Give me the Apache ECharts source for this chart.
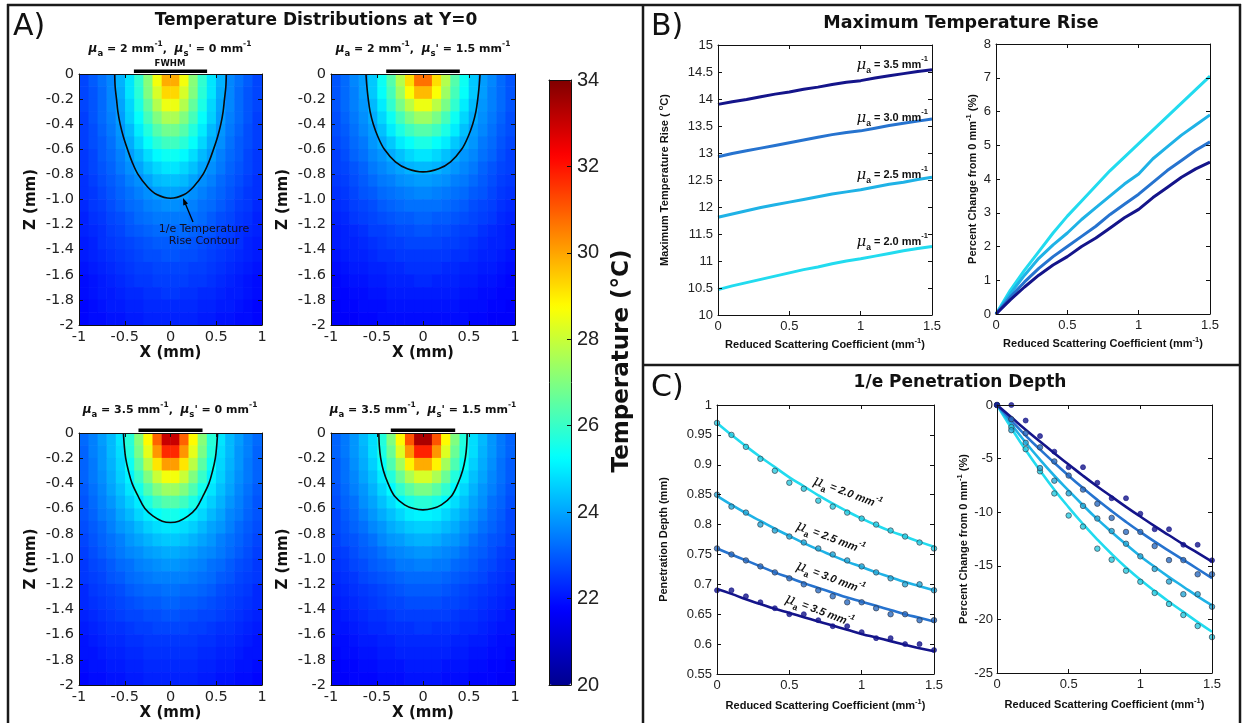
<!DOCTYPE html>
<html><head><meta charset="utf-8"><title>Temperature Distributions</title>
<script src="https://cdn.jsdelivr.net/npm/echarts@6/dist/echarts.min.js"></script>
<style>html,body{margin:0;padding:0;background:#fff;}#chart{width:1244px;height:723px;}</style>
</head><body><div id="chart"></div>
<script>
// ================= DATA (estimated from the figure) =================
// Panel A heat maps: cell centres (right half, mirrored for x<0) and depth rows
const cellX = [0.05,0.15,0.25,0.35,0.45,0.55,0.65,0.75,0.85,0.95];
const cellZ = [-0.05,-0.15,-0.25,-0.35,-0.45,-0.55,-0.65,-0.75,-0.85,-0.95,-1.05,-1.15,-1.25,-1.35,-1.45,-1.55,-1.65,-1.75,-1.85,-1.95];
const cellHalf = 0.05;
// Temperature (°C), rows = depth, cols = x
const heatP1 = [
[29.9,28.6,27.1,25.9,24.9,24.2,23.6,23.3,23.0,22.7],
[29.3,28.2,27.0,25.8,24.9,24.1,23.6,23.2,22.9,22.7],
[28.5,27.7,26.6,25.6,24.7,24.0,23.6,23.2,22.9,22.7],
[27.6,27.0,26.2,25.3,24.6,23.9,23.5,23.2,22.9,22.6],
[26.8,26.4,25.7,25.0,24.3,23.8,23.4,23.1,22.8,22.6],
[26.1,25.8,25.3,24.7,24.1,23.7,23.3,23.0,22.8,22.6],
[25.4,25.2,24.8,24.3,23.9,23.5,23.2,23.0,22.7,22.5],
[24.9,24.7,24.4,24.0,23.7,23.4,23.1,22.9,22.7,22.5],
[24.4,24.3,24.0,23.7,23.5,23.2,23.0,22.8,22.6,22.4],
[24.0,23.9,23.7,23.5,23.3,23.1,22.9,22.7,22.5,22.4],
[23.7,23.6,23.5,23.3,23.2,23.0,22.8,22.6,22.5,22.3],
[23.4,23.4,23.3,23.2,23.0,22.8,22.7,22.5,22.4,22.2],
[23.2,23.2,23.1,23.0,22.9,22.7,22.6,22.4,22.3,22.2],
[23.0,23.0,22.9,22.8,22.7,22.6,22.5,22.4,22.2,22.1],
[22.9,22.8,22.8,22.7,22.6,22.5,22.4,22.3,22.2,22.1],
[22.7,22.7,22.6,22.6,22.5,22.4,22.3,22.2,22.1,22.0],
[22.6,22.6,22.5,22.5,22.4,22.3,22.2,22.1,22.0,21.9],
[22.5,22.4,22.4,22.3,22.3,22.2,22.1,22.1,22.0,21.9],
[22.3,22.3,22.3,22.2,22.2,22.1,22.1,22.0,21.9,21.8],
[22.2,22.2,22.2,22.1,22.1,22.0,22.0,21.9,21.9,21.8]];
const heatP2 = [
[30.7,29.2,27.7,26.4,25.4,24.5,23.9,23.6,23.2,22.9],
[29.7,28.7,27.4,26.2,25.3,24.5,23.9,23.5,23.2,22.9],
[28.5,27.8,26.9,25.9,25.0,24.3,23.8,23.5,23.2,22.9],
[27.4,26.9,26.2,25.4,24.7,24.1,23.7,23.4,23.1,22.8],
[26.4,26.1,25.6,25.0,24.4,23.9,23.6,23.3,23.0,22.8],
[25.6,25.3,25.0,24.5,24.1,23.8,23.4,23.2,22.9,22.7],
[24.9,24.7,24.4,24.1,23.8,23.6,23.3,23.1,22.8,22.6],
[24.3,24.2,24.0,23.8,23.6,23.4,23.1,22.9,22.7,22.6],
[23.9,23.8,23.7,23.5,23.4,23.2,23.0,22.8,22.6,22.5],
[23.6,23.5,23.4,23.3,23.2,23.0,22.9,22.7,22.5,22.4],
[23.3,23.3,23.2,23.1,23.0,22.8,22.7,22.6,22.4,22.3],
[23.1,23.0,23.0,22.9,22.8,22.7,22.6,22.5,22.3,22.2],
[22.9,22.8,22.8,22.7,22.6,22.6,22.4,22.3,22.2,22.1],
[22.7,22.7,22.6,22.6,22.5,22.4,22.3,22.2,22.2,22.1],
[22.5,22.5,22.5,22.4,22.4,22.3,22.2,22.2,22.1,22.0],
[22.4,22.4,22.3,22.3,22.2,22.2,22.1,22.1,22.0,21.9],
[22.3,22.2,22.2,22.2,22.1,22.1,22.0,22.0,21.9,21.8],
[22.1,22.1,22.1,22.1,22.0,22.0,21.9,21.9,21.8,21.8],
[22.0,22.0,22.0,22.0,21.9,21.9,21.9,21.8,21.8,21.7],
[21.9,21.9,21.9,21.9,21.9,21.8,21.8,21.7,21.7,21.7]];
const heatP3 = [
[33.0,30.9,28.8,27.1,25.8,24.9,24.3,23.9,23.5,23.2],
[31.7,30.2,28.4,26.9,25.7,24.8,24.3,23.8,23.5,23.1],
[30.1,29.1,27.8,26.5,25.4,24.7,24.2,23.8,23.4,23.1],
[28.6,28.0,27.0,26.0,25.1,24.6,24.1,23.7,23.4,23.1],
[27.4,27.0,26.3,25.5,24.9,24.4,24.0,23.6,23.3,23.0],
[26.4,26.1,25.6,25.0,24.6,24.2,23.8,23.5,23.2,22.9],
[25.5,25.3,25.0,24.7,24.3,24.0,23.6,23.4,23.1,22.9],
[24.9,24.8,24.6,24.3,24.0,23.8,23.5,23.2,23.0,22.8],
[24.5,24.4,24.2,24.0,23.8,23.5,23.3,23.1,22.9,22.7],
[24.1,24.0,23.9,23.7,23.6,23.4,23.2,23.0,22.8,22.6],
[23.8,23.7,23.6,23.5,23.3,23.2,23.0,22.8,22.7,22.5],
[23.5,23.5,23.4,23.3,23.2,23.0,22.9,22.7,22.6,22.5],
[23.3,23.2,23.2,23.1,23.0,22.8,22.7,22.6,22.5,22.3],
[23.1,23.0,23.0,22.9,22.8,22.7,22.6,22.5,22.4,22.3],
[22.9,22.8,22.8,22.7,22.7,22.6,22.5,22.4,22.3,22.2],
[22.7,22.7,22.6,22.6,22.5,22.4,22.4,22.3,22.2,22.1],
[22.5,22.5,22.5,22.4,22.4,22.3,22.3,22.2,22.1,22.0],
[22.4,22.4,22.4,22.3,22.3,22.2,22.2,22.1,22.0,22.0],
[22.3,22.3,22.3,22.2,22.2,22.1,22.1,22.0,22.0,21.9],
[22.2,22.2,22.2,22.1,22.1,22.0,22.0,21.9,21.9,21.8]];
const heatP4 = [
[33.4,31.1,28.8,27.0,25.7,24.8,24.3,23.8,23.4,23.1],
[31.8,30.2,28.3,26.7,25.6,24.8,24.2,23.8,23.4,23.1],
[29.9,28.9,27.5,26.3,25.3,24.6,24.1,23.7,23.3,23.0],
[28.2,27.6,26.7,25.7,25.0,24.4,24.0,23.6,23.3,23.0],
[26.9,26.5,25.9,25.2,24.7,24.2,23.8,23.5,23.2,22.9],
[25.8,25.6,25.2,24.8,24.4,24.0,23.7,23.3,23.1,22.8],
[25.1,25.0,24.7,24.4,24.1,23.8,23.5,23.2,23.0,22.7],
[24.6,24.5,24.3,24.1,23.8,23.6,23.3,23.1,22.9,22.7],
[24.2,24.1,23.9,23.8,23.6,23.3,23.1,22.9,22.8,22.6],
[23.8,23.7,23.6,23.5,23.3,23.1,23.0,22.8,22.6,22.5],
[23.5,23.4,23.4,23.2,23.1,23.0,22.8,22.7,22.5,22.4],
[23.2,23.2,23.1,23.0,22.9,22.8,22.7,22.5,22.4,22.3],
[23.0,23.0,22.9,22.8,22.7,22.6,22.5,22.4,22.3,22.2],
[22.8,22.8,22.7,22.7,22.6,22.5,22.4,22.3,22.2,22.1],
[22.6,22.6,22.6,22.5,22.4,22.4,22.3,22.2,22.1,22.0],
[22.5,22.4,22.4,22.4,22.3,22.3,22.2,22.1,22.0,22.0],
[22.3,22.3,22.3,22.2,22.2,22.1,22.1,22.0,21.9,21.9],
[22.2,22.2,22.2,22.1,22.1,22.0,22.0,21.9,21.9,21.8],
[22.1,22.1,22.0,22.0,22.0,21.9,21.9,21.8,21.8,21.7],
[22.0,22.0,21.9,21.9,21.9,21.8,21.8,21.8,21.7,21.7]];
// 1/e temperature-rise contours (right half, x >= 0), [x, z] in mm
const contourP1 = [[0.61,0],[0.605,-0.1],[0.59,-0.2],[0.575,-0.3],[0.55,-0.4],[0.515,-0.5],[0.47,-0.6],[0.42,-0.7],[0.355,-0.8],[0.25,-0.9],[0.15,-0.96],[0,-0.99]];
const contourP2 = [[0.62,0],[0.61,-0.1],[0.595,-0.2],[0.575,-0.3],[0.54,-0.4],[0.49,-0.5],[0.42,-0.6],[0.3,-0.7],[0.17,-0.755],[0,-0.78]];
const contourP3 = [[0.515,0],[0.505,-0.1],[0.49,-0.2],[0.46,-0.3],[0.42,-0.4],[0.355,-0.5],[0.28,-0.6],[0.19,-0.66],[0.09,-0.7],[0,-0.71]];
const contourP4 = [[0.48,0],[0.475,-0.1],[0.46,-0.2],[0.43,-0.3],[0.38,-0.4],[0.31,-0.5],[0.2,-0.57],[0.1,-0.6],[0,-0.61]];
const fwhmHalf = [0.40, 0.40, 0.35, 0.35];
const panelMuA = ['2', '2', '3.5', '3.5'];
const panelMuS = ['0', '1.5', '0', '1.5'];
const colorbarTicks = [20, 34, 2];

// Panels B and C: reduced scattering coefficient (mm^-1)
const scatterCoef = [0,0.1,0.2,0.3,0.4,0.5,0.6,0.7,0.8,0.9,1.0,1.1,1.2,1.3,1.4,1.5];
const muaLabels = ['2.0', '2.5', '3.0', '3.5'];
// B left: maximum temperature rise (°C)
const maxRise20 = [10.47,10.54,10.60,10.66,10.72,10.78,10.84,10.89,10.95,11.00,11.04,11.09,11.14,11.19,11.23,11.27];
const maxRise25 = [11.81,11.87,11.93,11.99,12.04,12.09,12.14,12.19,12.24,12.28,12.32,12.37,12.42,12.46,12.51,12.55];
const maxRise30 = [12.93,12.99,13.04,13.09,13.14,13.19,13.24,13.29,13.34,13.38,13.41,13.46,13.51,13.55,13.59,13.63];
const maxRise35 = [13.90,13.95,13.99,14.04,14.09,14.13,14.18,14.22,14.27,14.31,14.34,14.39,14.43,14.47,14.51,14.54];
// B right: percent change of max rise (%)
const pctRise20 = [0,0.70,1.30,1.85,2.40,2.90,3.35,3.80,4.25,4.65,5.05,5.45,5.85,6.25,6.65,7.05];
const pctRise25 = [0,0.60,1.15,1.65,2.05,2.40,2.80,3.15,3.50,3.85,4.15,4.60,4.95,5.30,5.60,5.90];
const pctRise30 = [0,0.50,0.95,1.35,1.70,2.00,2.30,2.60,2.95,3.25,3.55,3.90,4.25,4.55,4.85,5.10];
const pctRise35 = [0,0.42,0.80,1.15,1.45,1.70,2.00,2.25,2.55,2.85,3.10,3.45,3.75,4.05,4.30,4.50];
// C left: penetration depth (mm) – simulated points and fitted curves
const depthPts20 = [0.97,0.95,0.93,0.91,0.89,0.87,0.86,0.84,0.83,0.82,0.81,0.80,0.79,0.78,0.77,0.76];
const depthPts25 = [0.85,0.83,0.82,0.80,0.79,0.78,0.77,0.76,0.75,0.74,0.73,0.72,0.71,0.70,0.70,0.69];
const depthPts30 = [0.76,0.75,0.74,0.73,0.72,0.71,0.70,0.69,0.68,0.67,0.67,0.66,0.65,0.65,0.64,0.64];
const depthPts35 = [0.69,0.69,0.68,0.67,0.66,0.65,0.65,0.64,0.63,0.63,0.62,0.61,0.61,0.60,0.60,0.59];
const depthFit20 = [0.970,0.950,0.931,0.913,0.896,0.879,0.864,0.849,0.835,0.822,0.810,0.799,0.789,0.780,0.771,0.763];
const depthFit25 = [0.848,0.833,0.819,0.806,0.793,0.781,0.769,0.758,0.748,0.738,0.729,0.720,0.712,0.704,0.697,0.690];
const depthFit30 = [0.760,0.750,0.740,0.730,0.720,0.711,0.702,0.694,0.686,0.678,0.671,0.664,0.657,0.650,0.644,0.638];
const depthFit35 = [0.692,0.684,0.675,0.667,0.659,0.652,0.645,0.638,0.631,0.624,0.617,0.611,0.605,0.599,0.593,0.588];
// C right: percent change of penetration depth (%)
const depthPct20 = [0,-2.06,-4.12,-6.19,-8.25,-10.31,-11.34,-13.40,-14.43,-15.46,-16.49,-17.53,-18.56,-19.59,-20.62,-21.65];
const depthPct25 = [0,-2.35,-3.53,-5.88,-7.06,-8.24,-9.41,-10.59,-11.76,-12.94,-14.12,-15.29,-16.47,-17.65,-17.65,-18.82];
const depthPct30 = [0,-1.32,-2.63,-3.95,-5.26,-6.58,-7.89,-9.21,-10.53,-11.84,-11.84,-13.16,-14.47,-14.47,-15.79,-15.79];
const depthPct35 = [0,0,-1.45,-2.90,-4.35,-5.80,-5.80,-7.25,-8.70,-8.70,-10.14,-11.59,-11.59,-13.04,-13.04,-14.49];
const depthPctFit20 = [0,-2.15,-4.20,-6.10,-7.90,-9.55,-11.10,-12.55,-13.90,-15.15,-16.30,-17.35,-18.35,-19.30,-20.25,-21.15];
const depthPctFit25 = [0,-1.80,-3.50,-5.10,-6.60,-8.00,-9.35,-10.65,-11.85,-13.00,-14.10,-15.10,-16.05,-16.95,-17.85,-18.70];
const depthPctFit30 = [0,-1.45,-2.85,-4.15,-5.40,-6.60,-7.75,-8.85,-9.90,-10.90,-11.85,-12.75,-13.60,-14.45,-15.30,-16.15];
const depthPctFit35 = [0,-1.15,-2.30,-3.40,-4.50,-5.55,-6.60,-7.60,-8.55,-9.50,-10.40,-11.30,-12.15,-13.00,-13.80,-14.60];

// ================= STYLE / LAYOUT =================
const FONT = 'DejaVu Sans';
const LFONT = 'Liberation Sans';
const INK = '#111111';
const jet = ['#00008f','#0000ff','#0080ff','#00ffff','#80ff80','#ffff00','#ff8000','#ff0000','#800000'];
const muaColor = {'2.0':'#22dbef', '2.5':'#1fb2e6', '3.0':'#2673cf', '3.5':'#14148a'};
const muaMarker = {'2.0':'#2bc9de', '2.5':'#25a8d6', '3.0':'#2a6cc2', '3.5':'#14148a'};

const gridRects = [
  {left:79, top:74, width:183, height:251},
  {left:331, top:74, width:184, height:251},
  {left:79, top:433, width:183, height:252},
  {left:331, top:433, width:184, height:252},
  {left:549, top:80, width:22, height:605},
  {left:718, top:45, width:214, height:270},
  {left:996, top:44, width:214, height:270},
  {left:717, top:405, width:217, height:269},
  {left:997, top:405, width:215, height:268}
];

const xAxes = [], yAxes = [];
function baseAxis(g, r) {
  return {type:'value', gridIndex:g, min:r[0], max:r[1], interval:r[2], z:5,
    axisLine:{show:true, onZero:false, lineStyle:{color:INK, width:1}},
    axisTick:{show:true, inside:true, length:4, lineStyle:{color:INK, width:1}},
    splitLine:{show:false}};
}
function addBoxAxes(g, xr, yr, c) {
  xAxes.push(Object.assign(baseAxis(g, xr), {position:'bottom', axisLabel:c.xLabel,
    name:c.xName || '', nameLocation:'middle', nameGap:c.xGap || 20, nameTextStyle:c.xNameStyle || {}}));
  xAxes.push(Object.assign(baseAxis(g, xr), {position:'top', axisLabel:{show:false}}));
  yAxes.push(Object.assign(baseAxis(g, yr), {position:'left', axisLabel:c.yLabel,
    name:c.yName || '', nameLocation:'middle', nameRotate:90, nameGap:c.yGap || 30, nameTextStyle:c.yNameStyle || {}}));
  yAxes.push(Object.assign(baseAxis(g, yr), {position:'right', axisLabel:{show:false}}));
}

const heatNameStyle = {fontFamily:FONT, fontWeight:'bold', fontSize:15, color:INK};
const heatTickStyle = {fontFamily:FONT, fontSize:14.5, color:'#222'};
for (let g = 0; g < 4; g++) {
  addBoxAxes(g, [-1, 1, 0.5], [-2, 0, 0.2], {
    xLabel: Object.assign({margin:5, formatter: v => String(+v.toFixed(1))}, heatTickStyle),
    yLabel: Object.assign({margin:5, formatter: v => Math.abs(v) < 1e-9 ? '0' : (Math.abs(v + 2) < 1e-9 ? '-2' : v.toFixed(1))}, heatTickStyle),
    xName:'X (mm)', xGap:17, xNameStyle:heatNameStyle,
    yName:'Z (mm)', yGap:40, yNameStyle:heatNameStyle
  });
}
// colorbar axes (grid 4)
(function () {
  const noLab = {show:false};
  const line = {show:true, onZero:false, lineStyle:{color:INK, width:1}};
  xAxes.push({type:'value', gridIndex:4, min:0, max:1, position:'bottom', z:10, axisLine:line, axisTick:{show:false}, axisLabel:noLab, splitLine:{show:false}});
  xAxes.push({type:'value', gridIndex:4, min:0, max:1, position:'top', z:10, axisLine:line, axisTick:{show:false}, axisLabel:noLab, splitLine:{show:false}});
  yAxes.push({type:'value', gridIndex:4, min:colorbarTicks[0], max:colorbarTicks[1], interval:colorbarTicks[2], position:'left', z:10, axisLine:line, axisTick:{show:false}, axisLabel:noLab, splitLine:{show:false}});
  yAxes.push({type:'value', gridIndex:4, min:colorbarTicks[0], max:colorbarTicks[1], interval:colorbarTicks[2], position:'right', z:10,
    axisLine:line, axisTick:{show:true, inside:true, length:4, lineStyle:{color:INK}},
    axisLabel:{margin:6, fontFamily:LFONT, fontSize:20, color:'#222'}, splitLine:{show:false}});
})();

const lineTick = {fontFamily:LFONT, fontSize:13, color:'#222'};
const nameRich = {
  t:{fontFamily:LFONT, fontWeight:'bold', fontSize:11, lineHeight:15, verticalAlign:'middle', color:INK},
  p:{fontFamily:LFONT, fontWeight:'bold', fontSize:7.5, lineHeight:8, verticalAlign:'top', color:INK}
};
const xNameRSC = '{t|Reduced Scattering Coefficient (mm}{p|-1}{t|)}';
const fmt = d => (v => String(+v.toFixed(d)));
addBoxAxes(5, [0, 1.5, 0.5], [10, 15, 0.5], {
  xLabel:Object.assign({margin:5, formatter:fmt(1)}, lineTick), yLabel:Object.assign({margin:5, formatter:fmt(1)}, lineTick),
  xName:xNameRSC, xGap:22, xNameStyle:{rich:nameRich},
  yName:'{t|Maximum Temperature Rise ( }{p|o}{t|C)}', yGap:46, yNameStyle:{rich:nameRich}});
addBoxAxes(6, [0, 1.5, 0.5], [0, 8, 1], {
  xLabel:Object.assign({margin:5, formatter:fmt(1)}, lineTick), yLabel:Object.assign({margin:5, formatter:fmt(0)}, lineTick),
  xName:xNameRSC, xGap:22, xNameStyle:{rich:nameRich},
  yName:'{t|Percent Change from 0 mm}{p|-1}{t| (%)}', yGap:16, yNameStyle:{rich:nameRich}});
addBoxAxes(7, [0, 1.5, 0.5], [0.55, 1, 0.05], {
  xLabel:Object.assign({margin:5, formatter:fmt(1)}, lineTick), yLabel:Object.assign({margin:5, formatter:fmt(2)}, lineTick),
  xName:xNameRSC, xGap:24, xNameStyle:{rich:nameRich},
  yName:'{t|Penetration Depth (mm)}', yGap:46, yNameStyle:{rich:nameRich}});
addBoxAxes(8, [0, 1.5, 0.5], [-25, 0, 5], {
  xLabel:Object.assign({margin:5, formatter:fmt(1)}, lineTick), yLabel:Object.assign({margin:4, formatter:fmt(0)}, lineTick),
  xName:xNameRSC, xGap:24, xNameStyle:{rich:nameRich},
  yName:'{t|Percent Change from 0 mm}{p|-1}{t| (%)}', yGap:26, yNameStyle:{rich:nameRich}});

// ================= SERIES =================
function heatData(grid) {
  const out = [];
  grid.forEach((row, j) => row.forEach((t, i) => {
    out.push([cellX[i], cellZ[j], t]);
    out.push([-cellX[i], cellZ[j], t]);
  }));
  return out;
}
function renderCell(params, api) {
  const x = api.value(0), z = api.value(1);
  const p0 = api.coord([x - cellHalf, z + cellHalf]);
  const p1 = api.coord([x + cellHalf, z - cellHalf]);
  return {type:'rect', shape:{x:p0[0] - 0.3, y:p0[1] - 0.3, width:p1[0] - p0[0] + 0.6, height:p1[1] - p0[1] + 0.6},
    style:{fill:api.visual('color')}};
}
function fullContour(half) {
  const left = half.map(p => [-p[0], p[1]]);
  const right = half.slice().reverse().slice(1);
  return left.concat(right);
}
function renderFwhm(params, api) {
  const h = api.value(0);
  const a = api.coord([-h, 0]), b = api.coord([h, 0]);
  return {type:'rect', shape:{x:a[0], y:a[1] - 4.5, width:b[0] - a[0], height:3.5}, style:{fill:'#000'}};
}
const heats = [heatP1, heatP2, heatP3, heatP4];
const contours = [contourP1, contourP2, contourP3, contourP4];
const series = [];
heats.forEach((h, g) => series.push({type:'custom', xAxisIndex:2*g, yAxisIndex:2*g, renderItem:renderCell,
  data:heatData(h), clip:true, silent:true, z:1}));
contours.forEach((c, g) => series.push({type:'line', xAxisIndex:2*g, yAxisIndex:2*g, data:fullContour(c),
  smooth:0.35, symbol:'none', lineStyle:{color:'#0a0a0a', width:1.6}, z:4, silent:true}));
fwhmHalf.forEach((h, g) => series.push({type:'custom', xAxisIndex:2*g, yAxisIndex:2*g, renderItem:renderFwhm,
  data:[[h, 0]], clip:false, silent:true, z:6}));

function pairs(ys) { return scatterCoef.map((x, i) => [x, ys[i]]); }
function lineS(g, ys, key, width, smooth) {
  return {type:'line', xAxisIndex:2*g, yAxisIndex:2*g, data:pairs(ys), symbol:'none', smooth:smooth || false,
    lineStyle:{color:muaColor[key], width:width}, itemStyle:{color:muaColor[key]}, z:3, silent:true};
}
function dotS(g, ys, key) {
  const filled = key === '3.5';
  return {type:'scatter', xAxisIndex:2*g, yAxisIndex:2*g, data:pairs(ys), symbol:'circle', symbolSize:filled ? 5 : 5.5,
    itemStyle:{color:muaMarker[key], borderColor:filled ? '#14148a' : '#2a3340', borderWidth:0.8}, z:4, silent:true};
}
const riseSets = {'2.0':maxRise20, '2.5':maxRise25, '3.0':maxRise30, '3.5':maxRise35};
const pctSets = {'2.0':pctRise20, '2.5':pctRise25, '3.0':pctRise30, '3.5':pctRise35};
const dPts = {'2.0':depthPts20, '2.5':depthPts25, '3.0':depthPts30, '3.5':depthPts35};
const dFit = {'2.0':depthFit20, '2.5':depthFit25, '3.0':depthFit30, '3.5':depthFit35};
const pPts = {'2.0':depthPct20, '2.5':depthPct25, '3.0':depthPct30, '3.5':depthPct35};
const pFit = {'2.0':depthPctFit20, '2.5':depthPctFit25, '3.0':depthPctFit30, '3.5':depthPctFit35};
muaLabels.forEach(k => series.push(lineS(5, riseSets[k], k, 3)));
muaLabels.forEach(k => series.push(lineS(6, pctSets[k], k, 3)));
muaLabels.forEach(k => series.push(lineS(7, dFit[k], k, 2.6, true)));
muaLabels.forEach(k => series.push(dotS(7, dPts[k], k)));
muaLabels.forEach(k => series.push(lineS(8, pFit[k], k, 2.6, true)));
muaLabels.forEach(k => series.push(dotS(8, pPts[k], k)));

// ================= TEXT / FRAME (graphic) =================
function txt(x, y, text, o) {
  o = o || {};
  const st = {text:text, fill:o.color || INK, fontFamily:o.family || FONT, fontSize:o.size || 12,
    fontWeight:o.weight || 'normal', fontStyle:o.style || 'normal',
    align:o.align || 'center', verticalAlign:'middle', textAlign:o.align || 'center', textVerticalAlign:'middle'};
  if (o.rich) st.rich = o.rich;
  return {type:'text', x:x, y:y, rotation:o.rot || 0, z:120, silent:true, style:st};
}
function tok(family, size, lh, va, weight, style) {
  return {fontFamily:family, fontSize:size, lineHeight:lh, verticalAlign:va, fontWeight:weight || 'bold',
    fontStyle:style || 'normal', fill:INK, color:INK};
}
const subRich = {
  mu:tok(FONT, 12, 18, 'middle', 'bold', 'italic'),
  s:tok(FONT, 8.5, 9, 'bottom'),
  t:tok(FONT, 11, 18, 'middle'),
  p:tok(FONT, 7.5, 8, 'top')
};
function labRich(italic) {
  return {
    mu:tok('DejaVu Serif', 15, 20, 'middle', 'normal', 'italic'),
    s:tok(LFONT, 8.5, 10, 'bottom'),
    t:tok(LFONT, 11, 20, 'middle', 'bold', italic ? 'italic' : 'normal'),
    p:tok(LFONT, 7.5, 9, 'top', 'bold', italic ? 'italic' : 'normal')
  };
}
const subCentres = [[170, 49], [423, 49], [170, 410], [423, 410]];
const graphics = [];
// frame
const frame = [[7,5,1241,5],[8,4,8,724],[1240,4,1240,724],[643,5,643,724],[643,365,1240,365]];
frame.forEach(f => graphics.push({type:'line', z:130, silent:true, shape:{x1:f[0], y1:f[1], x2:f[2], y2:f[3]},
  style:{stroke:'#1a1a1a', lineWidth:2.5}}));
graphics.push(txt(13, 27, 'A)', {size:30, align:'left'}));
graphics.push(txt(651, 27, 'B)', {size:30, align:'left'}));
graphics.push(txt(651, 388, 'C)', {size:30, align:'left'}));
graphics.push(txt(316, 21, 'Temperature Distributions at Y=0', {size:17, weight:'bold'}));
graphics.push(txt(961, 23, 'Maximum Temperature Rise', {size:17.5, weight:'bold'}));
graphics.push(txt(960, 383, '1/e Penetration Depth', {size:17, weight:'bold'}));
graphics.push(txt(622, 361, 'Temperature (°C)', {size:23, weight:'bold', rot:Math.PI / 2}));
subCentres.forEach((c, k) => graphics.push(txt(c[0], c[1],
  '{mu|μ}{s|a}{t| = ' + panelMuA[k] + ' mm}{p|-1}{t|,  }{mu|μ}{s|s}{t|\' = ' + panelMuS[k] + ' mm}{p|-1}', {rich:subRich})));
graphics.push(txt(170, 64, 'FWHM', {size:8.5, weight:'bold'}));
graphics.push(txt(204, 229, '1/e Temperature', {size:11, color:'#101020'}));
graphics.push(txt(204, 241, 'Rise Contour', {size:11, color:'#101020'}));
graphics.push({type:'line', z:125, silent:true, shape:{x1:193, y1:222, x2:185.5, y2:204}, style:{stroke:'#000', lineWidth:1.3}});
graphics.push({type:'polygon', z:125, silent:true, shape:{points:[[183, 198], [188, 203.6], [183.3, 205.6]]}, style:{fill:'#000'}});
// B labels (right aligned)
const bLabelY = {'3.5':65, '3.0':118, '2.5':175, '2.0':242};
muaLabels.forEach(k => graphics.push(txt(928, bLabelY[k], '{mu|μ}{s|a}{t| = ' + k + ' mm}{p|-1}', {rich:labRich(false), align:'right'})));
// C labels (rotated)
const cLabelPos = {'2.0':[847, 493], '2.5':[830, 538], '3.0':[830, 578], '3.5':[819, 611]};
muaLabels.forEach(k => graphics.push(txt(cLabelPos[k][0], cLabelPos[k][1], '{mu|μ}{s|a}{t| = ' + k + ' mm}{p|-1}',
  {rich:labRich(true), rot:-0.37})));

// ================= CHART =================
const chart = echarts.init(document.getElementById('chart'), null, {renderer:'canvas'});
chart.setOption({
  animation:false,
  backgroundColor:'#ffffff',
  grid:gridRects.map(r => Object.assign({containLabel:false, show:false}, r)),
  xAxis:xAxes,
  yAxis:yAxes,
  visualMap:{type:'continuous', seriesIndex:[0, 1, 2, 3], dimension:2, min:20, max:34,
    inRange:{color:jet}, show:true, calculable:false, hoverLink:false, realtime:false,
    orient:'vertical', left:549, top:80, itemWidth:22, itemHeight:605, padding:0, text:null, z:4},
  series:series,
  graphic:{elements:graphics}
});
</script></body></html>
